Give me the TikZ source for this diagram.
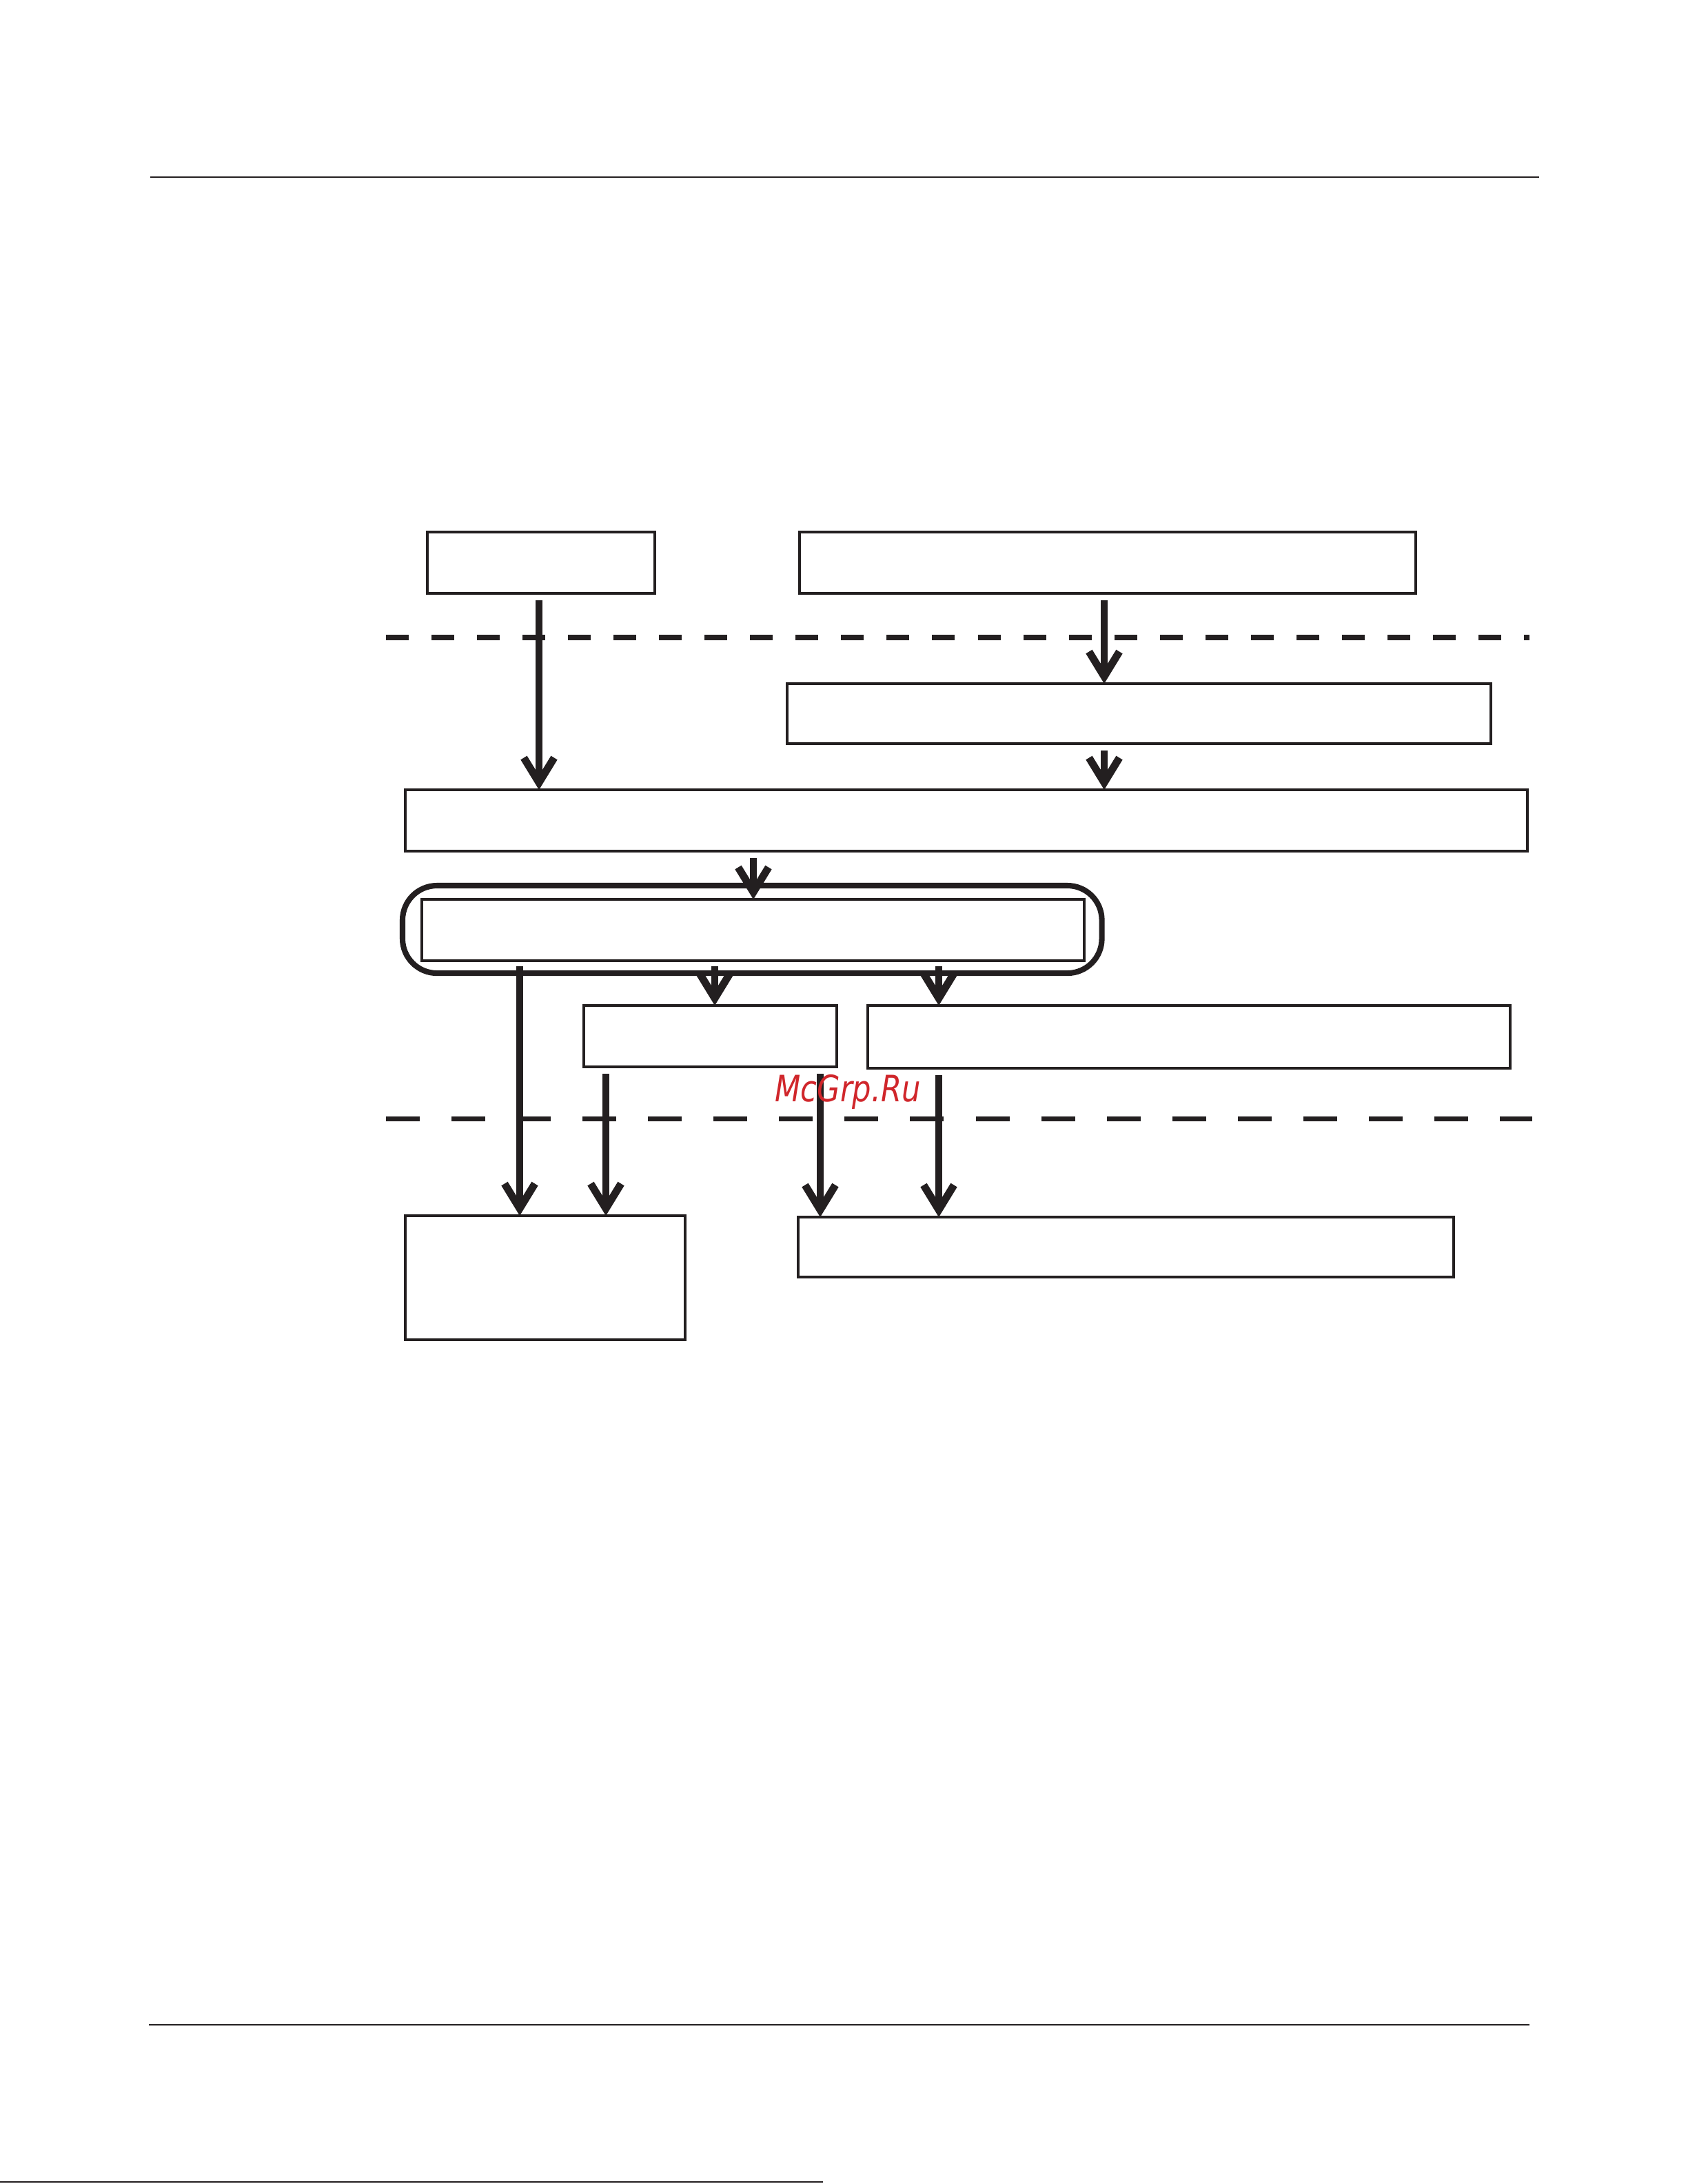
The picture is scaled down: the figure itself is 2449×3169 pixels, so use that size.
\documentclass[tikz,border=0pt]{standalone}
\usepackage{fontspec}
\newfontfamily\wmfont{DejaVu Sans}
\usetikzlibrary{arrows.meta}
\definecolor{ink}{HTML}{231F20}
\definecolor{wmred}{HTML}{D0262B}
\begin{document}
\begin{tikzpicture}[x=0.01cm,y=-0.01cm,
  box/.style={draw=ink,line width=1.15pt,inner sep=0pt,outer sep=0pt,anchor=north west},
  arr/.style={draw=ink,line width=3.1pt,-{Straight Barb[length=0.36cm,width=0.44cm]}},
  sep1/.style={draw=ink,line width=2pt,dash pattern=on 0.33cm off 0.33cm},
  sep2/.style={draw=ink,line width=2pt,dash pattern=on 0.49cm off 0.46cm},
  rule/.style={draw=ink,line width=0.6pt}]
\useasboundingbox (0,0) rectangle (2449,3169);
% page rules
\coordinate (r1a) at (218,257); \coordinate (r1b) at (2233,257);
\coordinate (r2a) at (216,2938); \coordinate (r2b) at (2219,2938);
\coordinate (r3a) at (0,3166); \coordinate (r3b) at (1194,3166);
\draw[rule] (r1a) -- (r1b);
\draw[rule] (r2a) -- (r2b);
\draw[rule,line width=0.5pt] (r3a) -- (r3b);
% boxes
\node[box,minimum width=3.3cm,minimum height=0.89cm] (A) at (620,772) {};
\node[box,minimum width=8.93cm,minimum height=0.89cm] (B) at (1160,772) {};
\node[box,minimum width=10.2cm,minimum height=0.87cm] (C) at (1142,992) {};
\node[box,minimum width=16.27cm,minimum height=0.89cm] (D) at (588,1146) {};
\node[draw=ink,line width=2.3pt,rounded corners=0.5cm,inner sep=0pt,outer sep=0pt,anchor=north west,minimum width=10.14cm,minimum height=1.27cm] (O) at (584,1285) {};
\node[box,minimum width=9.6cm,minimum height=0.89cm] (E) at (612,1305) {};
\node[box,minimum width=3.67cm,minimum height=0.89cm] (F) at (847,1459) {};
\node[box,minimum width=9.31cm,minimum height=0.91cm] (G) at (1259,1459) {};
\node[box,minimum width=4.06cm,minimum height=1.8cm] (H) at (588,1764) {};
\node[box,minimum width=9.5cm,minimum height=0.87cm] (I) at (1158,1766) {};
% dashed separators
\coordinate (d1a) at (560,925); \coordinate (d1b) at (2219,925);
\coordinate (d2a) at (560,1623); \coordinate (d2b) at (2223,1623);
\draw[sep1] (d1a) -- (d1b);
\draw[sep2] (d2a) -- (d2b);
% arrow columns
\coordinate (xA) at (782,0);
\coordinate (xB) at (1602,0);
\coordinate (xE) at (1093,0);
\coordinate (x1) at (754,0);
\coordinate (x2) at (1037,0);
\coordinate (x3) at (1362,0);
\coordinate (x4) at (879,0);
\coordinate (x5) at (1190,0);
% connectors
\draw[arr,shorten <=0.1cm] (xA |- A.south) -- (xA |- D.north);
\draw[arr,shorten <=0.1cm] (xB |- B.south) -- (xB |- C.north);
\draw[arr,shorten <=0.1cm] (xB |- C.south) -- (xB |- D.north);
\draw[arr,shorten <=0.1cm] (xE |- D.south) -- (xE |- E.north);
\draw[arr,shorten <=0.08cm] (x1 |- E.south) -- (x1 |- H.north);
\draw[arr,shorten <=0.08cm] (x2 |- E.south) -- (x2 |- F.north);
\draw[arr,shorten <=0.08cm] (x3 |- E.south) -- (x3 |- G.north);
\draw[arr,shorten <=0.1cm] (x4 |- F.south) -- (x4 |- H.north);
\draw[arr,shorten <=0.1cm] (x5 |- F.south) -- (x5 |- I.north);
\draw[arr,shorten <=0.1cm] (x3 |- G.south) -- (x3 |- I.north);
% watermark
\node[text=wmred,font=\wmfont\itshape\fontsize{15pt}{17pt}\selectfont,inner sep=0pt] (wm) at (1230,1584) {\scalebox{0.82}[1]{McGrp.Ru}};
\end{tikzpicture}
\end{document}
